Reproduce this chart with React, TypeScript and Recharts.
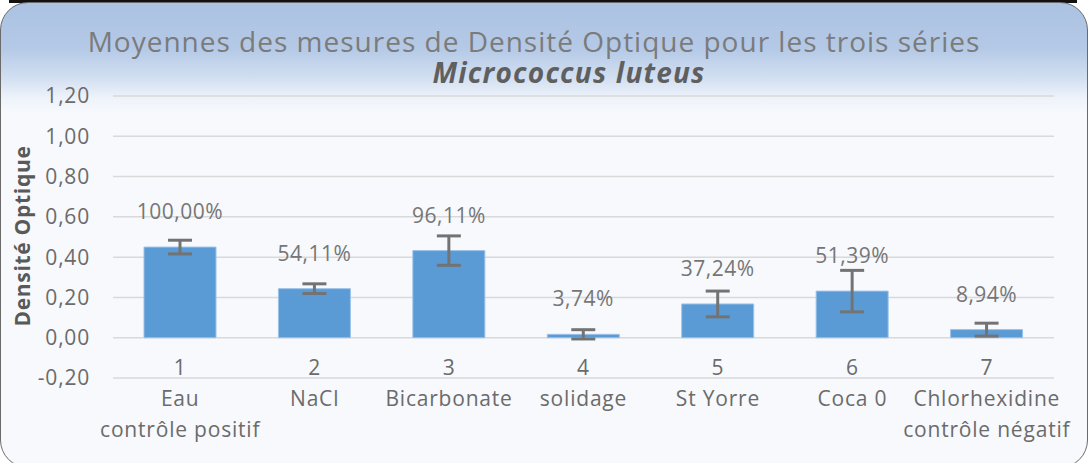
import React from "react";
import {
  BarChart,
  Bar,
  XAxis,
  YAxis,
  CartesianGrid,
  ErrorBar,
  LabelList,
} from "recharts";

// values
const categories = ["1", "2", "3", "4", "5", "6", "7"];
const productNames = [
  "Eau",
  "NaCl",
  "Bicarbonate",
  "solidage",
  "St Yorre",
  "Coca 0",
  "Chlorhexidine",
];
const productNotes = [
  "contrôle positif",
  "",
  "",
  "",
  "",
  "",
  "contrôle négatif",
];
const meanOD = [0.45, 0.2435, 0.4325, 0.0168, 0.1676, 0.2313, 0.0402];
const errorOD = [0.034, 0.024, 0.073, 0.023, 0.064, 0.103, 0.032];
const percentLabels = [
  "100,00%",
  "54,11%",
  "96,11%",
  "3,74%",
  "37,24%",
  "51,39%",
  "8,94%",
];
const yTicks = [-0.2, 0, 0.2, 0.4, 0.6, 0.8, 1.0, 1.2];

const data = categories.map((num, i) => ({
  num,
  name: productNames[i],
  note: productNotes[i],
  value: meanOD[i],
  err: errorOD[i],
  pct: percentLabels[i],
}));

const FONT = "'Open Sans', 'Noto Sans', sans-serif";

const fmt = (v: number) => v.toFixed(2).replace(".", ",");

const CategoryTick = (props: any) => {
  const { x, y, index } = props;
  const row = data[index];
  if (!row) return null;
  return (
    <text
      textAnchor="middle"
      fill="#6b6b6b"
      fontSize={21}
      letterSpacing={0.8}
      fontFamily={FONT}
    >
      <tspan x={x} y={y - 3}>
        {row.num}
      </tspan>
      <tspan x={x} y={y + 28}>
        {row.name}
      </tspan>
      {row.note ? (
        <tspan x={x} y={y + 59}>
          {row.note}
        </tspan>
      ) : null}
    </text>
  );
};

const PercentLabel = (props: any) => {
  const { x, y, width, index } = props;
  return (
    <text
      x={x + width / 2}
      y={y - 36}
      textAnchor="middle"
      dominantBaseline="central"
      fill="#767676"
      fontSize={21}
      letterSpacing={0.5}
      fontFamily={FONT}
    >
      {data[index].pct}
    </text>
  );
};

export default function App() {
  return (
    <div
      style={{
        position: "absolute",
        left: 0,
        top: 0,
        width: 1088,
        height: 463,
        overflow: "hidden",
        background: "#ffffff",
        fontFamily: FONT,
      }}
    >
      <div
        style={{
          position: "absolute",
          left: 9,
          top: 0,
          width: 1068,
          height: 3,
          background: "#111111",
        }}
      />
      <div
        style={{
          position: "absolute",
          left: 0,
          top: 2,
          width: 1086,
          height: 464,
          borderRadius: 28,
          border: "1px solid #6a6a6a",
          background:
            "linear-gradient(to bottom, #abc2e2 0px, #b4c9e6 45px, #d2dff1 75px, #eef3fa 95px, #f7f9fd 110px, #f7f9fd 100%)",
        }}
      />
      <div
        style={{
          position: "absolute",
          left: 0,
          top: 26,
          width: 1068,
          textAlign: "center",
          fontSize: 28,
          lineHeight: "30px",
          letterSpacing: 1,
          color: "#7b7b7b",
          whiteSpace: "nowrap",
        }}
      >
        Moyennes des mesures de Densité Optique pour les trois séries
      </div>
      <div
        style={{
          position: "absolute",
          left: 0,
          top: 57,
          width: 1138,
          textAlign: "center",
          fontSize: 28,
          lineHeight: "30px",
          letterSpacing: 1.2,
          fontWeight: 700,
          fontStyle: "italic",
          color: "#5f5f5f",
          whiteSpace: "nowrap",
        }}
      >
        Micrococcus luteus
      </div>
      <div
        style={{
          position: "absolute",
          left: 22,
          top: 236,
          transform: "translate(-50%, -50%) rotate(-90deg)",
          fontSize: 21,
          letterSpacing: 0.7,
          fontWeight: 700,
          color: "#595959",
          whiteSpace: "nowrap",
        }}
      >
        Densité Optique
      </div>
      <div style={{ position: "absolute", left: 0, top: 0 }}>
        <BarChart
          width={1088}
          height={463}
          data={data}
          margin={{ top: 96, right: 34, bottom: 55, left: 53 }}
        >
          <CartesianGrid
            vertical={false}
            stroke="#d9d9d9"
            strokeWidth={1.5}
          />
          <XAxis
            dataKey="num"
            height={30}
            tickLine={false}
            axisLine={false}
            tickSize={0}
            tickMargin={0}
            interval={0}
            tick={<CategoryTick />}
          />
          <YAxis
            width={60}
            domain={[-0.2, 1.2]}
            ticks={yTicks}
            tickFormatter={fmt}
            tickLine={false}
            axisLine={false}
            tickMargin={17}
            tick={{
              fill: "#6b6b6b",
              fontSize: 21,
              letterSpacing: 0.8,
              fontFamily: FONT,
            }}
          />
          <Bar
            dataKey="value"
            fill="#5b9bd5"
            stroke="#9cc2e8"
            strokeWidth={1}
            barSize={72}
            isAnimationActive={false}
          >
            <ErrorBar
              dataKey="err"
              width={12}
              stroke="#737373"
              strokeWidth={3}
              direction="y"
              isAnimationActive={false}
            />
            <LabelList dataKey="pct" content={<PercentLabel />} />
          </Bar>
        </BarChart>
      </div>
    </div>
  );
}
